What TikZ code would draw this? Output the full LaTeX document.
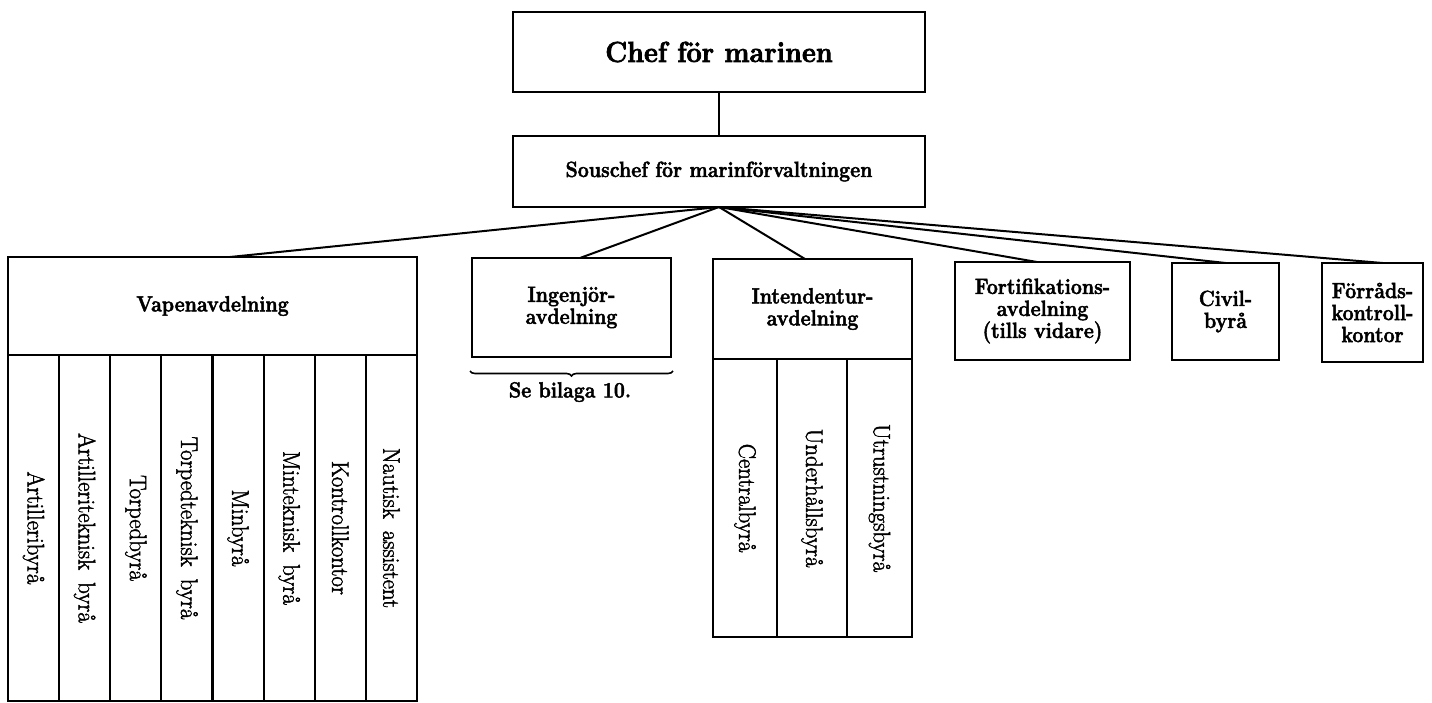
\documentclass[tikz,border=0pt]{standalone}
\usepackage{fontspec}
\setmainfont{Latin Modern Roman}[BoldFeatures={FakeBold=2,FakeStretch=0.89}]
\newfontfamily\colfont{Latin Modern Roman}[FakeBold=1.8,FakeStretch=0.95]
\newfontfamily\cheffont{Latin Modern Roman}[BoldFeatures={FakeBold=2.4,FakeStretch=0.93}]
\usetikzlibrary{decorations.pathreplacing,calc}
\begin{document}
\begin{tikzpicture}[x=1pt,y=-1pt,
  box/.style={draw,line width=2.2pt,rectangle,inner sep=0pt,outer sep=0pt,align=center,
    font=\bfseries\fontsize{22}{22}\selectfont},
  col/.style={draw,line width=2.2pt,rectangle,inner sep=0pt,outer sep=0pt,rotate=-90,
    font=\colfont\fontsize{24}{26}\selectfont,
    execute at begin node={\spaceskip=0.5em\relax}},
  link/.style={line width=2pt},
  lbl/.style={font=\bfseries\fontsize{22}{22}\selectfont}]
\useasboundingbox (0,0) rectangle (1432,703);
\fill[white] (0,0) rectangle (1432,703);

% top
\node[box,minimum width=412pt,minimum height=80pt,font=\cheffont\bfseries\fontsize{29}{32}\selectfont] (chef) at (719,52) {Chef för marinen};
\node[box,minimum width=412pt,minimum height=71pt] (sous) at (719,171.5) {Souschef för marinförvaltningen};
\draw[link] (chef) -- (sous);

% Vapenavdelning
\node[box,minimum width=409pt,minimum height=98pt] (vapen) at (212.5,306) {Vapenavdelning};
\foreach \t [count=\i from 0] in {Artilleribyrå,Artilleriteknisk byrå,Torpedbyrå,Torpedteknisk byrå,Minbyrå,Minteknisk byrå,Kontrollkontor,Nautisk assistent}{
  \node[col,minimum width=346pt,minimum height=51.125pt] (v\i) at ({8+51.125*(\i+0.5)},528) {\t};
}

% Ingenjör
\node[box,minimum width=199pt,minimum height=99pt] (ing) at (571.5,307.5) {Ingenjör-\\avdelning};
\draw[line width=1.6pt,decorate,decoration={brace,amplitude=5pt}]
  ([xshift=2pt,yshift=-14pt]ing.south east) -- ([xshift=-2pt,yshift=-14pt]ing.south west);
\node[lbl] (bil) at (570,392) {Se bilaga 10.};

% Intendentur
\node[box,minimum width=199pt,minimum height=100pt] (int) at (812.5,309) {Intendentur-\\avdelning};
\node[col,minimum width=278pt,minimum height=64pt] (i0) at (745,498) {Centralbyrå};
\node[col,minimum width=278pt,minimum height=70pt] (i1) at (812,498) {Underhållsbyrå};
\node[col,minimum width=278pt,minimum height=65pt] (i2) at (879.5,498) {Utrustningsbyrå};

% others
\node[box,minimum width=175pt,minimum height=98pt] (fort) at (1042.5,311) {Fortifikations-\\avdelning\\(tills vidare)};
\node[box,minimum width=107pt,minimum height=97pt] (civ) at (1225.5,311.5) {Civil-\\byrå};
\node[box,minimum width=101pt,minimum height=99pt] (forr) at (1372.5,312.5) {Förråds-\\kontroll-\\kontor};

% connectors
\draw[link] (sous.south) -- ([xshift=17.5pt]vapen.north);
\draw[link] (sous.south) -- ([xshift=8.5pt]ing.north);
\draw[link] (sous.south) -- ([xshift=-7.5pt]int.north);
\draw[link] (sous.south) -- ([xshift=-5.5pt]fort.north);
\draw[link] (sous.south) -- (civ.north);
\draw[link] (sous.south) -- ([xshift=10pt]forr.north);
\end{tikzpicture}
\end{document}
